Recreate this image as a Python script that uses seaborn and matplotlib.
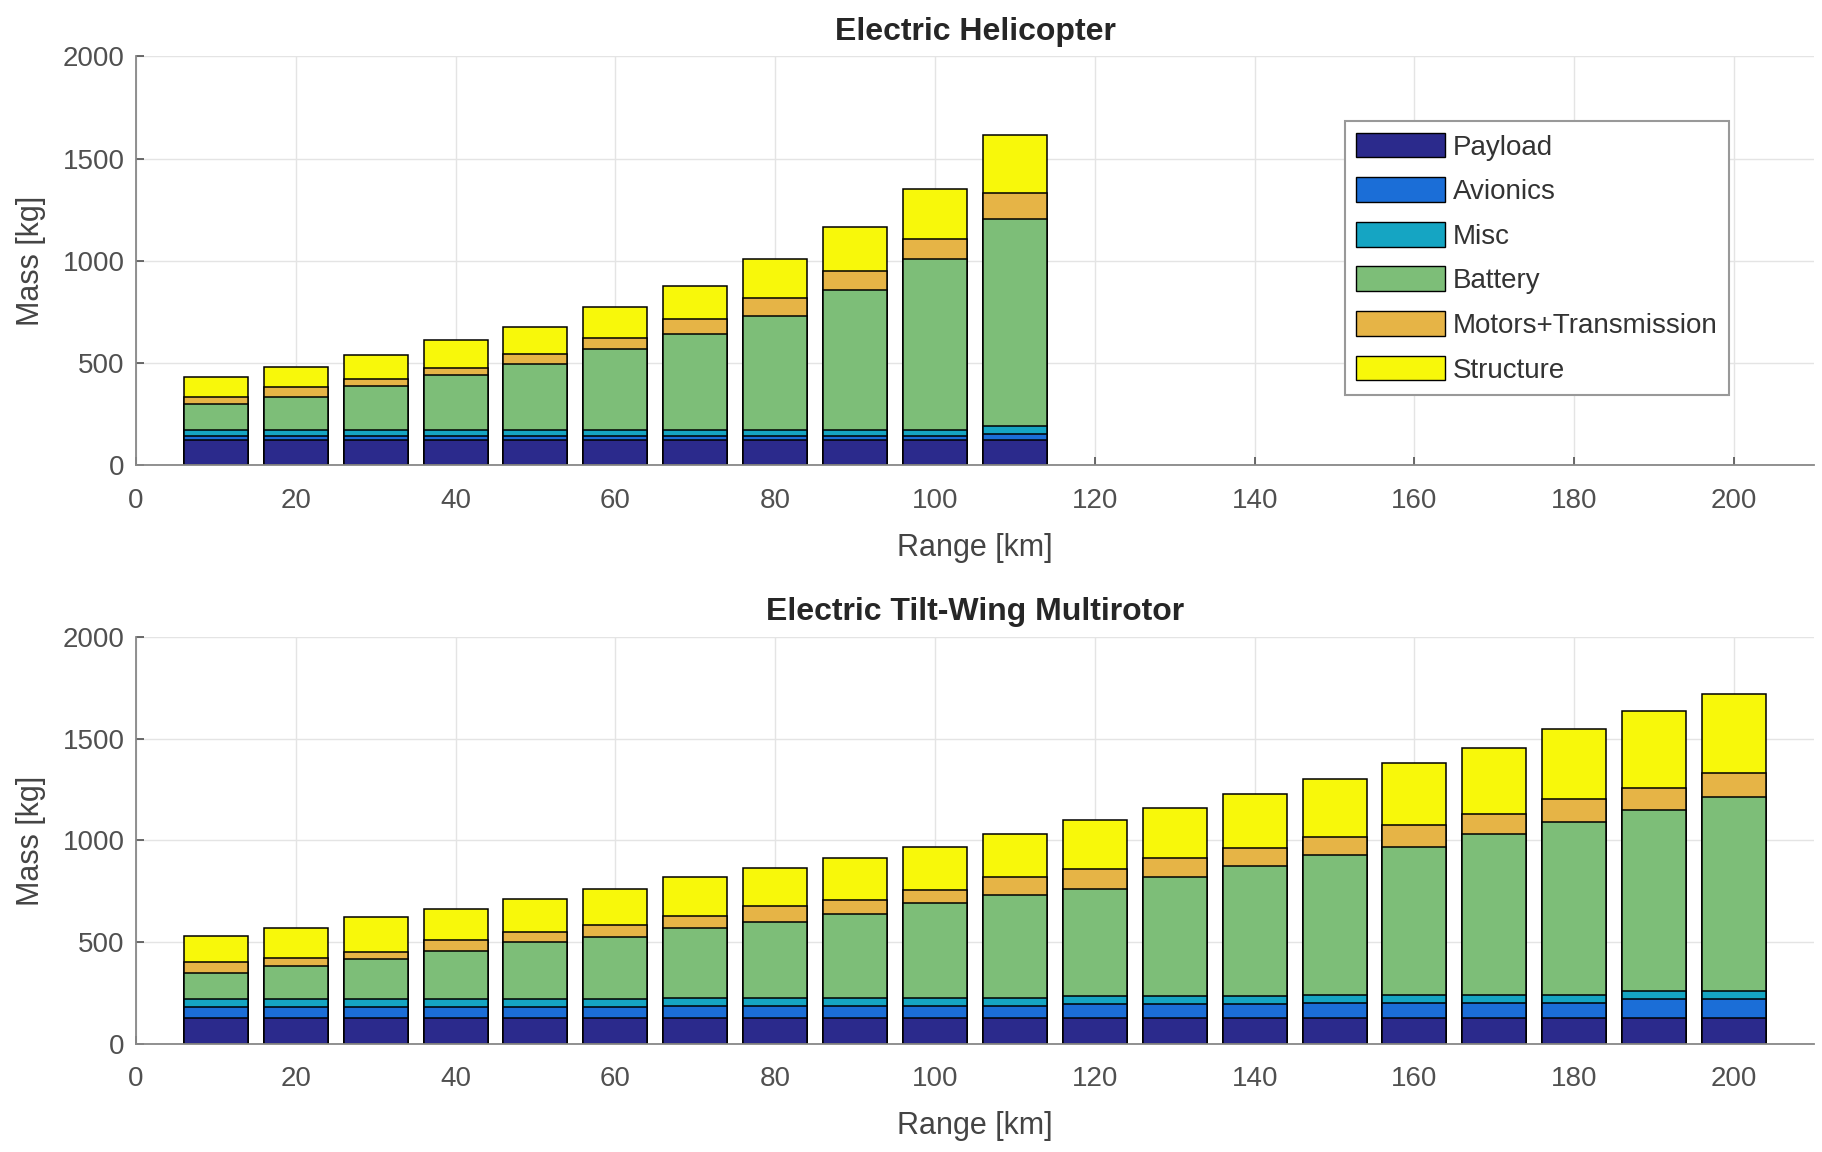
import seaborn as sns
import matplotlib.pyplot as plt
import numpy as np
from matplotlib.patches import Patch

# component masses [kg], bottom to top
components = ['Payload', 'Avionics', 'Misc', 'Battery', 'Motors+Transmission', 'Structure']
colors = ['#2b2a8c', '#1b6ed7', '#15a5c3', '#7dbe78', '#e6b446', '#f8f80a']

# Electric Helicopter
heli_range = [10, 20, 30, 40, 50, 60, 70, 80, 90, 100, 110]
heli_payload = [125, 125, 125, 125, 125, 125, 125, 125, 125, 125, 125]
heli_avionics = [20, 20, 20, 20, 20, 20, 20, 20, 20, 20, 30]
heli_misc = [30, 30, 30, 30, 30, 30, 30, 30, 30, 30, 40]
heli_battery = [123, 160, 212, 267, 322, 392, 466, 558, 684, 836, 1010]
heli_motors = [37, 48, 38, 36, 50, 55, 73, 87, 90, 97, 125]
heli_structure = [95, 100, 113, 135, 132, 155, 165, 188, 216, 244, 285]

# Electric Tilt-Wing Multirotor
tw_range = [10, 20, 30, 40, 50, 60, 70, 80, 90, 100,
            110, 120, 130, 140, 150, 160, 170, 180, 190, 200]
tw_payload = [125] * 20
tw_avionics = [55, 55, 55, 55, 55, 55, 60, 60, 60, 60,
               60, 70, 70, 70, 77, 77, 77, 77, 93, 93]
tw_misc = [40] * 20
tw_battery = [126, 162, 197, 236, 279, 307, 343, 376, 412, 467,
              505, 528, 584, 638, 684, 725, 787, 850, 890, 956]
tw_motors = [57, 38, 36, 55, 48, 58, 59, 74, 71, 66,
             89, 97, 92, 90, 92, 107, 99, 110, 109, 115]
tw_structure = [127, 148, 170, 151, 164, 178, 192, 190, 206, 210,
                210, 239, 250, 267, 283, 305, 325, 346, 378, 389]

sns.set_theme(style='whitegrid')
plt.rcParams['font.family'] = ['Liberation Sans', 'DejaVu Sans']

fig = plt.figure(figsize=(18.22, 11.52), dpi=100)
ax1 = fig.add_axes([0.0746, 0.596, 0.921, 0.355])
ax2 = fig.add_axes([0.0746, 0.094, 0.921, 0.353])


def stacked(ax, rng, layers, title):
    cum = np.cumsum(np.array(layers), axis=0)
    # draw tallest stack first so each lower layer sits on top
    for i in range(len(layers) - 1, -1, -1):
        sns.barplot(x=rng, y=cum[i], native_scale=True, width=0.8,
                    color=colors[i], saturation=1, edgecolor='black',
                    linewidth=1.1, errorbar=None, ax=ax)
    ax.set_xlim(0, 210)
    ax.set_ylim(0, 2000)
    ax.set_xticks(range(0, 201, 20))
    ax.set_yticks(range(0, 2001, 500))
    ax.set_title(title, fontsize=23, fontweight='bold', pad=12)
    ax.set_xlabel('Range [km]', fontsize=22, color='#444444', labelpad=14)
    ax.set_ylabel('Mass [kg]', fontsize=22, color='#444444', labelpad=12)
    ax.tick_params(labelsize=20, colors='#505050', direction='in', length=6,
                   width=1.2, left=True, bottom=True)
    ax.tick_params(axis='x', pad=16)
    ax.tick_params(axis='y', pad=8)
    ax.grid(True, color='#e4e4e4', linewidth=1)
    ax.set_axisbelow(True)
    for s in ['top', 'right']:
        ax.spines[s].set_visible(False)
    for s in ['left', 'bottom']:
        ax.spines[s].set_color('#888888')
        ax.spines[s].set_linewidth(1.3)


stacked(ax1, heli_range, [heli_payload, heli_avionics, heli_misc,
                          heli_battery, heli_motors, heli_structure],
        'Electric Helicopter')
stacked(ax2, tw_range, [tw_payload, tw_avionics, tw_misc,
                        tw_battery, tw_motors, tw_structure],
        'Electric Tilt-Wing Multirotor')

handles = [Patch(facecolor=c, edgecolor='black', linewidth=1) for c in colors]
leg = ax1.legend(handles, components, loc='upper left', bbox_to_anchor=(0.712, 0.875),
                 fontsize=20, handlelength=3.2, handleheight=1.0,
                 labelspacing=0.6, handletextpad=0.3, borderpad=0.4,
                 fancybox=False, framealpha=1, edgecolor='#999999')
leg.get_frame().set_linewidth(1.5)
for t in leg.get_texts():
    t.set_color('#333333')

fig.savefig('out.png', dpi=100)
